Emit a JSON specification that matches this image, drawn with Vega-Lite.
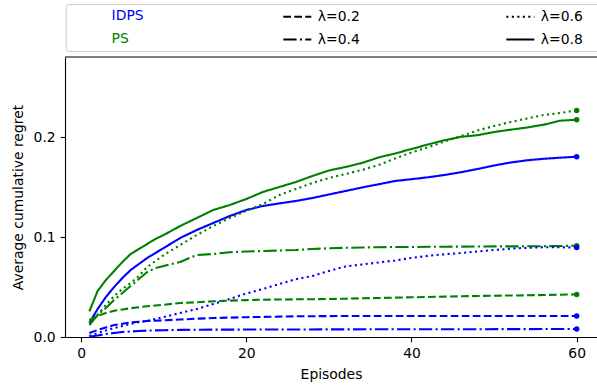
{
  "$schema": "https://vega.github.io/schema/vega-lite/v6.json",
  "width": 532,
  "height": 280,
  "autosize": {"type": "none"},
  "padding": {"left": 65, "top": 57, "right": 0, "bottom": 49},
  "config": {
    "font": "DejaVu Sans",
    "view": {"stroke": null},
    "axis": {
      "labelFont": "DejaVu Sans",
      "titleFont": "DejaVu Sans",
      "labelFontSize": 13.9,
      "titleFontSize": 13.9,
      "titleFontWeight": "normal",
      "labelColor": "black",
      "titleColor": "black",
      "domainColor": "black",
      "tickColor": "black",
      "domainWidth": 1.1,
      "tickWidth": 1.1,
      "tickSize": 4.9,
      "labelPadding": 4.9,
      "grid": false
    },
    "legend": {
      "labelFont": "DejaVu Sans",
      "labelFontSize": 13.9,
      "labelColor": "black"
    }
  },
  "datasets": {
    "regret": [
      {"method": "IDPS", "lambda": "λ=0.8", "episode": 1, "regret": 0.014},
      {"method": "IDPS", "lambda": "λ=0.8", "episode": 2, "regret": 0.028},
      {"method": "IDPS", "lambda": "λ=0.8", "episode": 3, "regret": 0.04},
      {"method": "IDPS", "lambda": "λ=0.8", "episode": 4, "regret": 0.05},
      {"method": "IDPS", "lambda": "λ=0.8", "episode": 5, "regret": 0.059},
      {"method": "IDPS", "lambda": "λ=0.8", "episode": 6, "regret": 0.067},
      {"method": "IDPS", "lambda": "λ=0.8", "episode": 7, "regret": 0.073},
      {"method": "IDPS", "lambda": "λ=0.8", "episode": 8, "regret": 0.079},
      {"method": "IDPS", "lambda": "λ=0.8", "episode": 9, "regret": 0.084},
      {"method": "IDPS", "lambda": "λ=0.8", "episode": 10, "regret": 0.089},
      {"method": "IDPS", "lambda": "λ=0.8", "episode": 12, "regret": 0.099},
      {"method": "IDPS", "lambda": "λ=0.8", "episode": 14, "regret": 0.107},
      {"method": "IDPS", "lambda": "λ=0.8", "episode": 16, "regret": 0.114},
      {"method": "IDPS", "lambda": "λ=0.8", "episode": 18, "regret": 0.121},
      {"method": "IDPS", "lambda": "λ=0.8", "episode": 20, "regret": 0.127},
      {"method": "IDPS", "lambda": "λ=0.8", "episode": 22, "regret": 0.131},
      {"method": "IDPS", "lambda": "λ=0.8", "episode": 24, "regret": 0.1336},
      {"method": "IDPS", "lambda": "λ=0.8", "episode": 26, "regret": 0.136},
      {"method": "IDPS", "lambda": "λ=0.8", "episode": 28, "regret": 0.139},
      {"method": "IDPS", "lambda": "λ=0.8", "episode": 30, "regret": 0.1425},
      {"method": "IDPS", "lambda": "λ=0.8", "episode": 32, "regret": 0.146},
      {"method": "IDPS", "lambda": "λ=0.8", "episode": 34, "regret": 0.1495},
      {"method": "IDPS", "lambda": "λ=0.8", "episode": 36, "regret": 0.1527},
      {"method": "IDPS", "lambda": "λ=0.8", "episode": 38, "regret": 0.156},
      {"method": "IDPS", "lambda": "λ=0.8", "episode": 40, "regret": 0.1578},
      {"method": "IDPS", "lambda": "λ=0.8", "episode": 42, "regret": 0.1597},
      {"method": "IDPS", "lambda": "λ=0.8", "episode": 44, "regret": 0.162},
      {"method": "IDPS", "lambda": "λ=0.8", "episode": 46, "regret": 0.1648},
      {"method": "IDPS", "lambda": "λ=0.8", "episode": 48, "regret": 0.168},
      {"method": "IDPS", "lambda": "λ=0.8", "episode": 50, "regret": 0.1715},
      {"method": "IDPS", "lambda": "λ=0.8", "episode": 52, "regret": 0.1745},
      {"method": "IDPS", "lambda": "λ=0.8", "episode": 54, "regret": 0.1767},
      {"method": "IDPS", "lambda": "λ=0.8", "episode": 56, "regret": 0.1782},
      {"method": "IDPS", "lambda": "λ=0.8", "episode": 58, "regret": 0.1793},
      {"method": "IDPS", "lambda": "λ=0.8", "episode": 60, "regret": 0.1803},

      {"method": "PS", "lambda": "λ=0.8", "episode": 1, "regret": 0.0256},
      {"method": "PS", "lambda": "λ=0.8", "episode": 2, "regret": 0.046},
      {"method": "PS", "lambda": "λ=0.8", "episode": 3, "regret": 0.057},
      {"method": "PS", "lambda": "λ=0.8", "episode": 4, "regret": 0.066},
      {"method": "PS", "lambda": "λ=0.8", "episode": 5, "regret": 0.075},
      {"method": "PS", "lambda": "λ=0.8", "episode": 6, "regret": 0.083},
      {"method": "PS", "lambda": "λ=0.8", "episode": 7, "regret": 0.088},
      {"method": "PS", "lambda": "λ=0.8", "episode": 8, "regret": 0.093},
      {"method": "PS", "lambda": "λ=0.8", "episode": 9, "regret": 0.098},
      {"method": "PS", "lambda": "λ=0.8", "episode": 10, "regret": 0.102},
      {"method": "PS", "lambda": "λ=0.8", "episode": 12, "regret": 0.111},
      {"method": "PS", "lambda": "λ=0.8", "episode": 14, "regret": 0.119},
      {"method": "PS", "lambda": "λ=0.8", "episode": 16, "regret": 0.127},
      {"method": "PS", "lambda": "λ=0.8", "episode": 18, "regret": 0.132},
      {"method": "PS", "lambda": "λ=0.8", "episode": 20, "regret": 0.138},
      {"method": "PS", "lambda": "λ=0.8", "episode": 22, "regret": 0.145},
      {"method": "PS", "lambda": "λ=0.8", "episode": 24, "regret": 0.15},
      {"method": "PS", "lambda": "λ=0.8", "episode": 26, "regret": 0.155},
      {"method": "PS", "lambda": "λ=0.8", "episode": 28, "regret": 0.161},
      {"method": "PS", "lambda": "λ=0.8", "episode": 30, "regret": 0.1665},
      {"method": "PS", "lambda": "λ=0.8", "episode": 32, "regret": 0.17},
      {"method": "PS", "lambda": "λ=0.8", "episode": 34, "regret": 0.174},
      {"method": "PS", "lambda": "λ=0.8", "episode": 36, "regret": 0.1795},
      {"method": "PS", "lambda": "λ=0.8", "episode": 38, "regret": 0.1835},
      {"method": "PS", "lambda": "λ=0.8", "episode": 40, "regret": 0.188},
      {"method": "PS", "lambda": "λ=0.8", "episode": 42, "regret": 0.1925},
      {"method": "PS", "lambda": "λ=0.8", "episode": 44, "regret": 0.1967},
      {"method": "PS", "lambda": "λ=0.8", "episode": 46, "regret": 0.2002},
      {"method": "PS", "lambda": "λ=0.8", "episode": 48, "regret": 0.2018},
      {"method": "PS", "lambda": "λ=0.8", "episode": 50, "regret": 0.205},
      {"method": "PS", "lambda": "λ=0.8", "episode": 52, "regret": 0.2073},
      {"method": "PS", "lambda": "λ=0.8", "episode": 54, "regret": 0.2095},
      {"method": "PS", "lambda": "λ=0.8", "episode": 56, "regret": 0.2123},
      {"method": "PS", "lambda": "λ=0.8", "episode": 58, "regret": 0.2163},
      {"method": "PS", "lambda": "λ=0.8", "episode": 60, "regret": 0.2173},

      {"method": "PS", "lambda": "λ=0.6", "episode": 1, "regret": 0.014},
      {"method": "PS", "lambda": "λ=0.6", "episode": 2, "regret": 0.022},
      {"method": "PS", "lambda": "λ=0.6", "episode": 3, "regret": 0.032},
      {"method": "PS", "lambda": "λ=0.6", "episode": 4, "regret": 0.041},
      {"method": "PS", "lambda": "λ=0.6", "episode": 5, "regret": 0.048},
      {"method": "PS", "lambda": "λ=0.6", "episode": 6, "regret": 0.054},
      {"method": "PS", "lambda": "λ=0.6", "episode": 7, "regret": 0.061},
      {"method": "PS", "lambda": "λ=0.6", "episode": 8, "regret": 0.07},
      {"method": "PS", "lambda": "λ=0.6", "episode": 9, "regret": 0.076},
      {"method": "PS", "lambda": "λ=0.6", "episode": 10, "regret": 0.082},
      {"method": "PS", "lambda": "λ=0.6", "episode": 12, "regret": 0.092},
      {"method": "PS", "lambda": "λ=0.6", "episode": 14, "regret": 0.102},
      {"method": "PS", "lambda": "λ=0.6", "episode": 16, "regret": 0.111},
      {"method": "PS", "lambda": "λ=0.6", "episode": 18, "regret": 0.119},
      {"method": "PS", "lambda": "λ=0.6", "episode": 20, "regret": 0.126},
      {"method": "PS", "lambda": "λ=0.6", "episode": 22, "regret": 0.133},
      {"method": "PS", "lambda": "λ=0.6", "episode": 24, "regret": 0.142},
      {"method": "PS", "lambda": "λ=0.6", "episode": 26, "regret": 0.148},
      {"method": "PS", "lambda": "λ=0.6", "episode": 28, "regret": 0.154},
      {"method": "PS", "lambda": "λ=0.6", "episode": 30, "regret": 0.159},
      {"method": "PS", "lambda": "λ=0.6", "episode": 32, "regret": 0.163},
      {"method": "PS", "lambda": "λ=0.6", "episode": 34, "regret": 0.167},
      {"method": "PS", "lambda": "λ=0.6", "episode": 36, "regret": 0.172},
      {"method": "PS", "lambda": "λ=0.6", "episode": 38, "regret": 0.1785},
      {"method": "PS", "lambda": "λ=0.6", "episode": 40, "regret": 0.1845},
      {"method": "PS", "lambda": "λ=0.6", "episode": 42, "regret": 0.1897},
      {"method": "PS", "lambda": "λ=0.6", "episode": 44, "regret": 0.1955},
      {"method": "PS", "lambda": "λ=0.6", "episode": 46, "regret": 0.201},
      {"method": "PS", "lambda": "λ=0.6", "episode": 48, "regret": 0.2065},
      {"method": "PS", "lambda": "λ=0.6", "episode": 50, "regret": 0.211},
      {"method": "PS", "lambda": "λ=0.6", "episode": 52, "regret": 0.215},
      {"method": "PS", "lambda": "λ=0.6", "episode": 54, "regret": 0.2185},
      {"method": "PS", "lambda": "λ=0.6", "episode": 56, "regret": 0.222},
      {"method": "PS", "lambda": "λ=0.6", "episode": 58, "regret": 0.224},
      {"method": "PS", "lambda": "λ=0.6", "episode": 60, "regret": 0.2266},

      {"method": "PS", "lambda": "λ=0.4", "episode": 1, "regret": 0.012},
      {"method": "PS", "lambda": "λ=0.4", "episode": 2, "regret": 0.022},
      {"method": "PS", "lambda": "λ=0.4", "episode": 3, "regret": 0.029},
      {"method": "PS", "lambda": "λ=0.4", "episode": 4, "regret": 0.037},
      {"method": "PS", "lambda": "λ=0.4", "episode": 5, "regret": 0.044},
      {"method": "PS", "lambda": "λ=0.4", "episode": 6, "regret": 0.051},
      {"method": "PS", "lambda": "λ=0.4", "episode": 7, "regret": 0.058},
      {"method": "PS", "lambda": "λ=0.4", "episode": 8, "regret": 0.065},
      {"method": "PS", "lambda": "λ=0.4", "episode": 9, "regret": 0.069},
      {"method": "PS", "lambda": "λ=0.4", "episode": 10, "regret": 0.071},
      {"method": "PS", "lambda": "λ=0.4", "episode": 12, "regret": 0.075},
      {"method": "PS", "lambda": "λ=0.4", "episode": 14, "regret": 0.082},
      {"method": "PS", "lambda": "λ=0.4", "episode": 16, "regret": 0.083},
      {"method": "PS", "lambda": "λ=0.4", "episode": 18, "regret": 0.0848},
      {"method": "PS", "lambda": "λ=0.4", "episode": 20, "regret": 0.0855},
      {"method": "PS", "lambda": "λ=0.4", "episode": 22, "regret": 0.086},
      {"method": "PS", "lambda": "λ=0.4", "episode": 24, "regret": 0.0865},
      {"method": "PS", "lambda": "λ=0.4", "episode": 26, "regret": 0.087},
      {"method": "PS", "lambda": "λ=0.4", "episode": 28, "regret": 0.088},
      {"method": "PS", "lambda": "λ=0.4", "episode": 30, "regret": 0.0888},
      {"method": "PS", "lambda": "λ=0.4", "episode": 32, "regret": 0.0892},
      {"method": "PS", "lambda": "λ=0.4", "episode": 34, "regret": 0.0895},
      {"method": "PS", "lambda": "λ=0.4", "episode": 36, "regret": 0.0898},
      {"method": "PS", "lambda": "λ=0.4", "episode": 38, "regret": 0.09},
      {"method": "PS", "lambda": "λ=0.4", "episode": 40, "regret": 0.09},
      {"method": "PS", "lambda": "λ=0.4", "episode": 42, "regret": 0.0902},
      {"method": "PS", "lambda": "λ=0.4", "episode": 44, "regret": 0.0903},
      {"method": "PS", "lambda": "λ=0.4", "episode": 46, "regret": 0.0904},
      {"method": "PS", "lambda": "λ=0.4", "episode": 48, "regret": 0.0905},
      {"method": "PS", "lambda": "λ=0.4", "episode": 50, "regret": 0.0906},
      {"method": "PS", "lambda": "λ=0.4", "episode": 52, "regret": 0.0906},
      {"method": "PS", "lambda": "λ=0.4", "episode": 54, "regret": 0.0907},
      {"method": "PS", "lambda": "λ=0.4", "episode": 56, "regret": 0.0908},
      {"method": "PS", "lambda": "λ=0.4", "episode": 58, "regret": 0.091},
      {"method": "PS", "lambda": "λ=0.4", "episode": 60, "regret": 0.0913},

      {"method": "IDPS", "lambda": "λ=0.6", "episode": 1, "regret": 0.001},
      {"method": "IDPS", "lambda": "λ=0.6", "episode": 2, "regret": 0.004},
      {"method": "IDPS", "lambda": "λ=0.6", "episode": 3, "regret": 0.0065},
      {"method": "IDPS", "lambda": "λ=0.6", "episode": 4, "regret": 0.009},
      {"method": "IDPS", "lambda": "λ=0.6", "episode": 5, "regret": 0.011},
      {"method": "IDPS", "lambda": "λ=0.6", "episode": 6, "regret": 0.013},
      {"method": "IDPS", "lambda": "λ=0.6", "episode": 7, "regret": 0.015},
      {"method": "IDPS", "lambda": "λ=0.6", "episode": 8, "regret": 0.016},
      {"method": "IDPS", "lambda": "λ=0.6", "episode": 9, "regret": 0.018},
      {"method": "IDPS", "lambda": "λ=0.6", "episode": 10, "regret": 0.02},
      {"method": "IDPS", "lambda": "λ=0.6", "episode": 12, "regret": 0.024},
      {"method": "IDPS", "lambda": "λ=0.6", "episode": 14, "regret": 0.028},
      {"method": "IDPS", "lambda": "λ=0.6", "episode": 16, "regret": 0.033},
      {"method": "IDPS", "lambda": "λ=0.6", "episode": 18, "regret": 0.038},
      {"method": "IDPS", "lambda": "λ=0.6", "episode": 20, "regret": 0.0435},
      {"method": "IDPS", "lambda": "λ=0.6", "episode": 22, "regret": 0.048},
      {"method": "IDPS", "lambda": "λ=0.6", "episode": 24, "regret": 0.053},
      {"method": "IDPS", "lambda": "λ=0.6", "episode": 26, "regret": 0.0578},
      {"method": "IDPS", "lambda": "λ=0.6", "episode": 28, "regret": 0.061},
      {"method": "IDPS", "lambda": "λ=0.6", "episode": 30, "regret": 0.066},
      {"method": "IDPS", "lambda": "λ=0.6", "episode": 32, "regret": 0.0705},
      {"method": "IDPS", "lambda": "λ=0.6", "episode": 34, "regret": 0.0725},
      {"method": "IDPS", "lambda": "λ=0.6", "episode": 36, "regret": 0.0745},
      {"method": "IDPS", "lambda": "λ=0.6", "episode": 38, "regret": 0.0765},
      {"method": "IDPS", "lambda": "λ=0.6", "episode": 40, "regret": 0.079},
      {"method": "IDPS", "lambda": "λ=0.6", "episode": 42, "regret": 0.0812},
      {"method": "IDPS", "lambda": "λ=0.6", "episode": 44, "regret": 0.0827},
      {"method": "IDPS", "lambda": "λ=0.6", "episode": 46, "regret": 0.084},
      {"method": "IDPS", "lambda": "λ=0.6", "episode": 48, "regret": 0.0855},
      {"method": "IDPS", "lambda": "λ=0.6", "episode": 50, "regret": 0.087},
      {"method": "IDPS", "lambda": "λ=0.6", "episode": 52, "regret": 0.0883},
      {"method": "IDPS", "lambda": "λ=0.6", "episode": 54, "regret": 0.0892},
      {"method": "IDPS", "lambda": "λ=0.6", "episode": 56, "regret": 0.0897},
      {"method": "IDPS", "lambda": "λ=0.6", "episode": 58, "regret": 0.0897},
      {"method": "IDPS", "lambda": "λ=0.6", "episode": 60, "regret": 0.0896},

      {"method": "PS", "lambda": "λ=0.2", "episode": 1, "regret": 0.017},
      {"method": "PS", "lambda": "λ=0.2", "episode": 2, "regret": 0.021},
      {"method": "PS", "lambda": "λ=0.2", "episode": 3, "regret": 0.024},
      {"method": "PS", "lambda": "λ=0.2", "episode": 4, "regret": 0.0263},
      {"method": "PS", "lambda": "λ=0.2", "episode": 5, "regret": 0.0275},
      {"method": "PS", "lambda": "λ=0.2", "episode": 6, "regret": 0.0288},
      {"method": "PS", "lambda": "λ=0.2", "episode": 7, "regret": 0.0298},
      {"method": "PS", "lambda": "λ=0.2", "episode": 8, "regret": 0.0307},
      {"method": "PS", "lambda": "λ=0.2", "episode": 9, "regret": 0.0315},
      {"method": "PS", "lambda": "λ=0.2", "episode": 10, "regret": 0.0322},
      {"method": "PS", "lambda": "λ=0.2", "episode": 12, "regret": 0.034},
      {"method": "PS", "lambda": "λ=0.2", "episode": 14, "regret": 0.0348},
      {"method": "PS", "lambda": "λ=0.2", "episode": 16, "regret": 0.0357},
      {"method": "PS", "lambda": "λ=0.2", "episode": 18, "regret": 0.0364},
      {"method": "PS", "lambda": "λ=0.2", "episode": 20, "regret": 0.0369},
      {"method": "PS", "lambda": "λ=0.2", "episode": 22, "regret": 0.0373},
      {"method": "PS", "lambda": "λ=0.2", "episode": 24, "regret": 0.0375},
      {"method": "PS", "lambda": "λ=0.2", "episode": 26, "regret": 0.0377},
      {"method": "PS", "lambda": "λ=0.2", "episode": 28, "regret": 0.0378},
      {"method": "PS", "lambda": "λ=0.2", "episode": 30, "regret": 0.038},
      {"method": "PS", "lambda": "λ=0.2", "episode": 32, "regret": 0.0383},
      {"method": "PS", "lambda": "λ=0.2", "episode": 34, "regret": 0.0387},
      {"method": "PS", "lambda": "λ=0.2", "episode": 36, "regret": 0.039},
      {"method": "PS", "lambda": "λ=0.2", "episode": 38, "regret": 0.0394},
      {"method": "PS", "lambda": "λ=0.2", "episode": 40, "regret": 0.0397},
      {"method": "PS", "lambda": "λ=0.2", "episode": 42, "regret": 0.04},
      {"method": "PS", "lambda": "λ=0.2", "episode": 44, "regret": 0.0404},
      {"method": "PS", "lambda": "λ=0.2", "episode": 46, "regret": 0.0407},
      {"method": "PS", "lambda": "λ=0.2", "episode": 48, "regret": 0.041},
      {"method": "PS", "lambda": "λ=0.2", "episode": 50, "regret": 0.0413},
      {"method": "PS", "lambda": "λ=0.2", "episode": 52, "regret": 0.0415},
      {"method": "PS", "lambda": "λ=0.2", "episode": 54, "regret": 0.0417},
      {"method": "PS", "lambda": "λ=0.2", "episode": 56, "regret": 0.042},
      {"method": "PS", "lambda": "λ=0.2", "episode": 58, "regret": 0.0423},
      {"method": "PS", "lambda": "λ=0.2", "episode": 60, "regret": 0.0426},

      {"method": "IDPS", "lambda": "λ=0.2", "episode": 1, "regret": 0.004},
      {"method": "IDPS", "lambda": "λ=0.2", "episode": 2, "regret": 0.007},
      {"method": "IDPS", "lambda": "λ=0.2", "episode": 3, "regret": 0.0095},
      {"method": "IDPS", "lambda": "λ=0.2", "episode": 4, "regret": 0.012},
      {"method": "IDPS", "lambda": "λ=0.2", "episode": 5, "regret": 0.0133},
      {"method": "IDPS", "lambda": "λ=0.2", "episode": 6, "regret": 0.0145},
      {"method": "IDPS", "lambda": "λ=0.2", "episode": 7, "regret": 0.0153},
      {"method": "IDPS", "lambda": "λ=0.2", "episode": 8, "regret": 0.016},
      {"method": "IDPS", "lambda": "λ=0.2", "episode": 9, "regret": 0.0163},
      {"method": "IDPS", "lambda": "λ=0.2", "episode": 10, "regret": 0.0167},
      {"method": "IDPS", "lambda": "λ=0.2", "episode": 12, "regret": 0.0175},
      {"method": "IDPS", "lambda": "λ=0.2", "episode": 14, "regret": 0.0183},
      {"method": "IDPS", "lambda": "λ=0.2", "episode": 16, "regret": 0.019},
      {"method": "IDPS", "lambda": "λ=0.2", "episode": 18, "regret": 0.0194},
      {"method": "IDPS", "lambda": "λ=0.2", "episode": 20, "regret": 0.0198},
      {"method": "IDPS", "lambda": "λ=0.2", "episode": 22, "regret": 0.0201},
      {"method": "IDPS", "lambda": "λ=0.2", "episode": 24, "regret": 0.0204},
      {"method": "IDPS", "lambda": "λ=0.2", "episode": 26, "regret": 0.0207},
      {"method": "IDPS", "lambda": "λ=0.2", "episode": 28, "regret": 0.0208},
      {"method": "IDPS", "lambda": "λ=0.2", "episode": 30, "regret": 0.0209},
      {"method": "IDPS", "lambda": "λ=0.2", "episode": 34, "regret": 0.021},
      {"method": "IDPS", "lambda": "λ=0.2", "episode": 40, "regret": 0.021},
      {"method": "IDPS", "lambda": "λ=0.2", "episode": 46, "regret": 0.021},
      {"method": "IDPS", "lambda": "λ=0.2", "episode": 52, "regret": 0.021},
      {"method": "IDPS", "lambda": "λ=0.2", "episode": 56, "regret": 0.021},
      {"method": "IDPS", "lambda": "λ=0.2", "episode": 60, "regret": 0.021},

      {"method": "IDPS", "lambda": "λ=0.4", "episode": 1, "regret": 0.0003},
      {"method": "IDPS", "lambda": "λ=0.4", "episode": 2, "regret": 0.0015},
      {"method": "IDPS", "lambda": "λ=0.4", "episode": 3, "regret": 0.003},
      {"method": "IDPS", "lambda": "λ=0.4", "episode": 4, "regret": 0.004},
      {"method": "IDPS", "lambda": "λ=0.4", "episode": 5, "regret": 0.005},
      {"method": "IDPS", "lambda": "λ=0.4", "episode": 6, "regret": 0.0055},
      {"method": "IDPS", "lambda": "λ=0.4", "episode": 7, "regret": 0.006},
      {"method": "IDPS", "lambda": "λ=0.4", "episode": 8, "regret": 0.0064},
      {"method": "IDPS", "lambda": "λ=0.4", "episode": 9, "regret": 0.0066},
      {"method": "IDPS", "lambda": "λ=0.4", "episode": 10, "regret": 0.0068},
      {"method": "IDPS", "lambda": "λ=0.4", "episode": 12, "regret": 0.0071},
      {"method": "IDPS", "lambda": "λ=0.4", "episode": 14, "regret": 0.0073},
      {"method": "IDPS", "lambda": "λ=0.4", "episode": 18, "regret": 0.0074},
      {"method": "IDPS", "lambda": "λ=0.4", "episode": 24, "regret": 0.0075},
      {"method": "IDPS", "lambda": "λ=0.4", "episode": 30, "regret": 0.0076},
      {"method": "IDPS", "lambda": "λ=0.4", "episode": 36, "regret": 0.0077},
      {"method": "IDPS", "lambda": "λ=0.4", "episode": 42, "regret": 0.0078},
      {"method": "IDPS", "lambda": "λ=0.4", "episode": 48, "regret": 0.0078},
      {"method": "IDPS", "lambda": "λ=0.4", "episode": 54, "regret": 0.0079},
      {"method": "IDPS", "lambda": "λ=0.4", "episode": 60, "regret": 0.008}
    ],
    "frame": [{"top": 0.28}]
  },
  "layer": [
    {
      "data": {"name": "regret"},
      "mark": {"type": "line", "strokeWidth": 2.1, "strokeJoin": "round"},
      "encoding": {
        "x": {
          "field": "episode",
          "type": "quantitative",
          "scale": {"domain": [-1.95, 62.46], "nice": false, "zero": false},
          "axis": {"values": [0, 20, 40, 60], "title": "Episodes", "titlePadding": 7}
        },
        "y": {
          "field": "regret",
          "type": "quantitative",
          "scale": {"domain": [0, 0.28], "nice": false},
          "axis": {"values": [0, 0.1, 0.2], "format": ".1f", "title": "Average cumulative regret", "titlePadding": 8}
        },
        "color": {
          "field": "method",
          "type": "nominal",
          "scale": {"domain": ["IDPS", "PS"], "range": ["#0000ff", "#008000"]},
          "legend": {
            "title": null,
            "orient": "none",
            "legendX": 0.7,
            "legendY": -53,
            "padding": 5,
            "rowPadding": 8,
            "strokeColor": "#cccccc",
            "cornerRadius": 3,
            "symbolOpacity": 0,
            "symbolSize": 100,
            "symbolOffset": 540,
            "labelOffset": -513,
            "encode": {
              "labels": {"update": {"fill": {"signal": "datum.label === 'IDPS' ? '#0000ff' : '#008000'"}}}
            }
          }
        },
        "strokeDash": {
          "field": "lambda",
          "type": "nominal",
          "scale": {
            "domain": ["λ=0.2", "λ=0.4", "λ=0.6", "λ=0.8"],
            "range": [[7.7, 3.3], [13.3, 3.3, 2.1, 3.3], [2.1, 3.4], [1, 0]]
          },
          "legend": {
            "title": null,
            "orient": "none",
            "legendX": 216.8,
            "legendY": -56,
            "padding": 0,
            "columns": 2,
            "columnPadding": 142,
            "rowPadding": -3,
            "symbolType": "stroke",
            "symbolSize": 784,
            "symbolStrokeWidth": 2.1,
            "symbolStrokeColor": "black",
            "labelOffset": 5
          }
        }
      }
    },
    {
      "data": {"name": "regret"},
      "transform": [{"filter": "datum.episode == 60"}],
      "mark": {"type": "circle", "size": 30, "opacity": 1},
      "encoding": {
        "x": {"field": "episode", "type": "quantitative"},
        "y": {"field": "regret", "type": "quantitative"},
        "color": {"field": "method", "type": "nominal"}
      }
    },
    {
      "data": {"name": "frame"},
      "mark": {"type": "rule", "color": "black", "strokeWidth": 1.1},
      "encoding": {"y": {"field": "top", "type": "quantitative"}}
    }
  ]
}
